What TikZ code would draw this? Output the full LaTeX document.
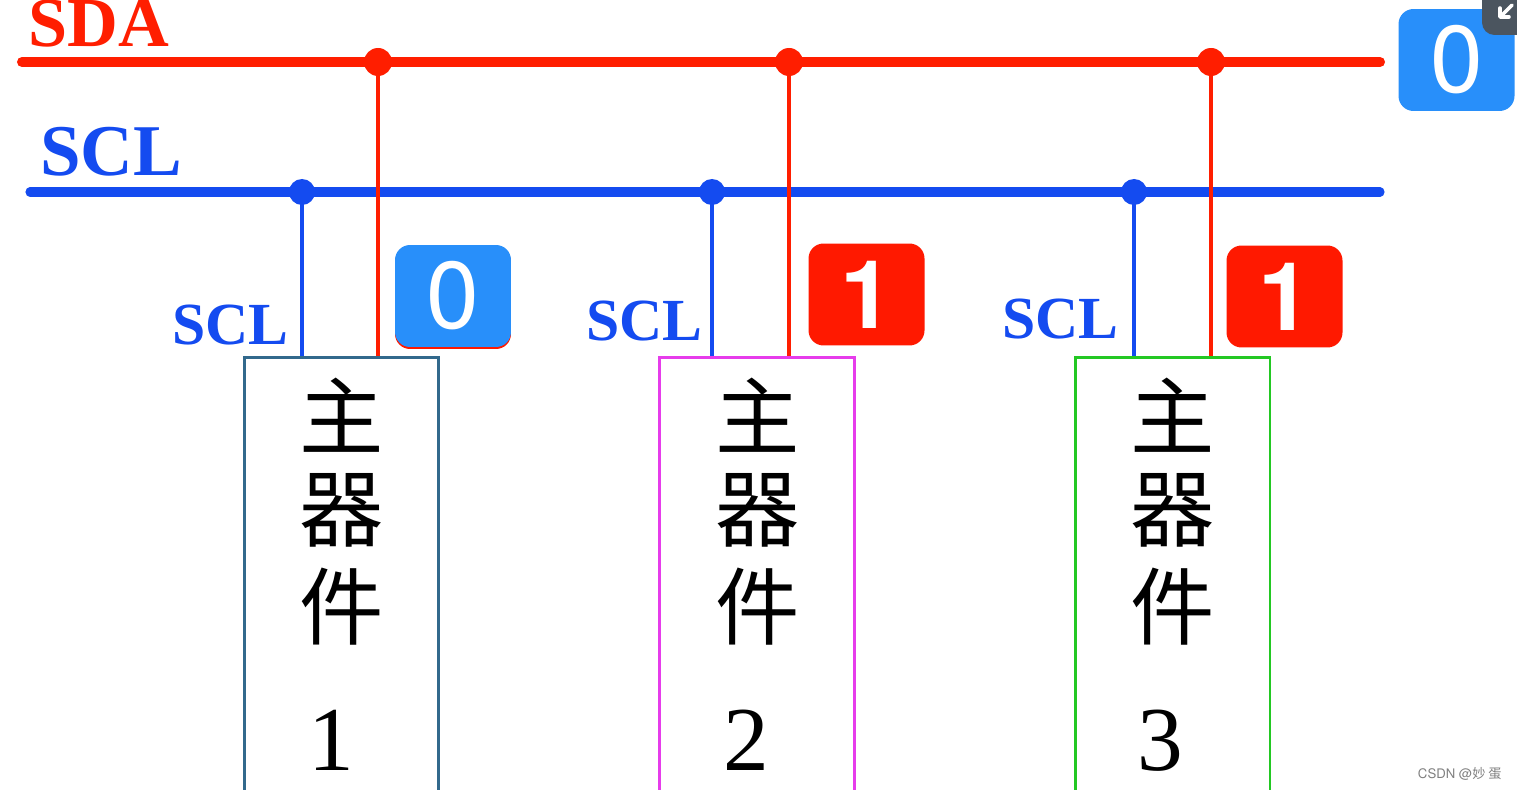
\documentclass[tikz,border=0pt]{standalone}
\usepackage{fontspec}
\setmainfont{Liberation Serif}
\newfontfamily\badgesans{texgyreheros-regular.otf}[BoldFont=texgyreheros-bold.otf]
\newfontfamily\cjk{Noto Sans CJK SC}
\definecolor{sdared}{RGB}{255,30,0}
\definecolor{sclblue}{RGB}{20,75,240}
\definecolor{badgeblue}{RGB}{40,143,250}
\definecolor{badgered}{RGB}{255,25,0}
\definecolor{boxone}{RGB}{50,105,140}
\definecolor{boxtwo}{RGB}{230,60,235}
\definecolor{boxthree}{RGB}{35,200,35}
\definecolor{icongrey}{RGB}{75,85,95}
\tikzset{
  sdabus/.style={draw=sdared, line width=5.7pt, line cap=round},
  sclbus/.style={draw=sclblue, line width=5.2pt, line cap=round},
  sdadrop/.style={draw=sdared, line width=2.4pt},
  scldrop/.style={draw=sclblue, line width=2.8pt},
  sdadot/.style={circle, fill=sdared, inner sep=0pt, minimum size=0.56cm},
  scldot/.style={circle, fill=sclblue, inner sep=0pt, minimum size=0.52cm},
  masterbox/.style={draw=#1, line width=1.7pt, fill=white, minimum width=3.9cm, minimum height=9cm, anchor=north, inner sep=0pt},
  cjkchar/.style={inner sep=0pt, font=\cjk\fontsize{48}{50}\selectfont},
  numlabel/.style={inner sep=0pt, font=\fontsize{52}{54}\selectfont},
  buslabel/.style={inner sep=0pt, font=\bfseries\fontsize{#1}{#1}\selectfont},
  badge/.style={fill=#1, rounded corners=0.3cm, minimum width=2.32cm, minimum height=2.04cm, inner sep=0pt, text=white, font=\badgesans\fontsize{54}{54}\selectfont},
  boldbadge/.style={badge=#1, font=\badgesans\bfseries\fontsize{54}{54}\selectfont},
}
\begin{document}
\begin{tikzpicture}[x=0.02cm,y=-0.02cm]
\useasboundingbox (0,0) rectangle (1517,790);
\clip (0,0) rectangle (1517,790);
\fill[white] (0,0) rectangle (1517,790);

% bus end points
\coordinate (sdaL) at (22,62);
\coordinate (sdaR) at (1380,62);
\coordinate (sclL) at (30,192);
\coordinate (sclR) at (1380,192);

% master boxes
\node[masterbox=boxone]   (m1) at (341.5,356) {};
\node[masterbox=boxtwo]   (m2) at (757,356) {};
\node[masterbox=boxthree] (m3) at (1172.5,356) {};

% buses
\draw[sdabus] (sdaL) -- (sdaR);
\draw[sclbus] (sclL) -- (sclR);

% junction dots
\node[sdadot] (d1) at (378,62) {};
\node[sdadot] (d2) at (789,62) {};
\node[sdadot] (d3) at (1211,62) {};
\node[scldot] (c1) at (302,192) {};
\node[scldot] (c2) at (712,192) {};
\node[scldot] (c3) at (1134,192) {};

% drops
\draw[scldrop] (c1.center) -- (c1 |- m1.north);
\draw[scldrop] (c2.center) -- (c2 |- m2.north);
\draw[scldrop] (c3.center) -- (c3 |- m3.north);
\draw[sdadrop] (d1.center) -- (d1 |- m1.north);
\draw[sdadrop] (d2.center) -- (d2 |- m2.north);
\draw[sdadrop] (d3.center) -- (d3 |- m3.north);

% bus labels
\node[buslabel=40, text=sdared, anchor=base west] (sdalab) at (28,47) {SDA};
\node[buslabel=41.5, text=sclblue, anchor=base west] (scllab) at (40,176) {SCL};
\node[buslabel=34, text=sclblue, anchor=base east] (s1) at (289,344) {SCL};
\node[buslabel=34, text=sclblue, anchor=base east] (s2) at (703,340) {SCL};
\node[buslabel=34, text=sclblue, anchor=base east] (s3) at (1119,338) {SCL};

% box texts
\foreach \b/\x/\n/\nx in {1/342/1/331, 2/758/2/746, 3/1173/3/1160}{
  \node[cjkchar] (z\b) at (\x,415) {主};
  \node[cjkchar] (q\b) at (\x,510) {器};
  \node[cjkchar] (j\b) at (\x,607) {件};
  \node[numlabel, anchor=base] (n\b) at (\nx,770) {\n};
}

% badges
\node[badge=badgered] (b1r) at (453,298) {};
\node[badge=badgeblue] (b1) at (453,296) {0};
\node[boldbadge=badgered] (b2) at (866.5,294.5) {1};
\node[boldbadge=badgered] (b3) at (1284.5,296.5) {1};
\node[badge=badgeblue] (b0) at (1456.5,60) {0};

% corner icon
\fill[icongrey, rounded corners=0.25cm] (1482,-20) rectangle (1540,35);
\draw[white, line width=2pt, line cap=round] (1512,5) -- (1501,16);
\draw[white, line width=2pt, line cap=round, line join=round] (1500,8) -- (1500,17) -- (1509,17);

% watermark
\node[inner sep=0pt, anchor=base east, text=black!50, font=\badgesans\fontsize{7.5}{8}\selectfont] (wm) at (1502,778) {CSDN @{\cjk 妙 蛋}};
\end{tikzpicture}
\end{document}
